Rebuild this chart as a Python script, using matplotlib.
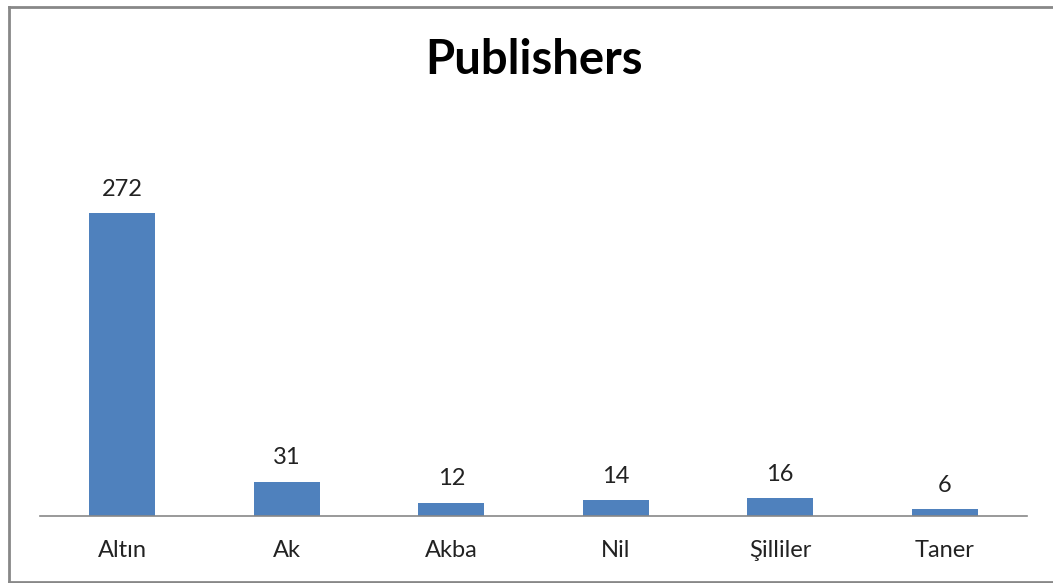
import matplotlib.pyplot as plt
from matplotlib.lines import Line2D

publishers = ["Altın", "Ak", "Akba", "Nil", "Şilliler", "Taner"]
counts = [272, 31, 12, 14, 16, 6]

plt.rcParams['font.family'] = ['Lato', 'DejaVu Sans']

fig = plt.figure(figsize=(10.53, 5.83), dpi=100)
ax = fig.add_axes([40 / 1053, 67 / 583, 987 / 1053, 366 / 583])

bars = ax.bar(range(len(publishers)), counts, width=0.4, color="#4F81BD")
ax.set_xlim(-0.5, len(publishers) - 0.5)
ax.set_ylim(0, 329)

for b, v in zip(bars, counts):
    ax.text(b.get_x() + b.get_width() / 2, v + 12, str(v),
            ha="center", va="bottom", fontsize=17, color="#222222")

ax.set_xticks(range(len(publishers)))
ax.set_xticklabels(publishers, fontsize=17, color="#222222")
ax.tick_params(axis="x", length=0, pad=17)
ax.set_yticks([])
for s in ["top", "right", "left"]:
    ax.spines[s].set_visible(False)
ax.spines["bottom"].set_color("#888888")
ax.spines["bottom"].set_linewidth(1.2)

fig.text(534 / 1053, 1 - 60 / 583, "Publishers", ha="center", va="center",
         fontsize=34, fontweight="bold")

# outer frame: left, top and bottom edges only
x0, y0, y1 = 9 / 1053, 1.5 / 583, 1 - 7 / 583
for xs, ys in [([x0, x0], [y0, y1]), ([x0, 1.0], [y1, y1]), ([x0, 1.0], [y0, y0])]:
    fig.lines.append(Line2D(xs, ys, transform=fig.transFigure,
                            color="#888888", linewidth=2))

fig.savefig("out.png", dpi=100)
